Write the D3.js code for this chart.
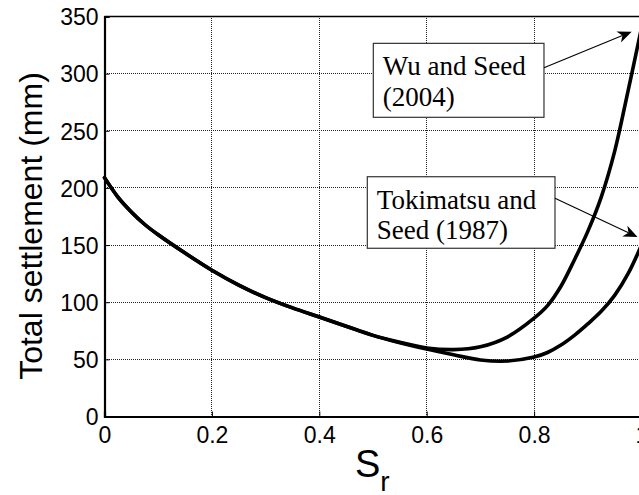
<!DOCTYPE html>
<html>
<head>
<meta charset="utf-8">
<script src="https://cdn.jsdelivr.net/npm/d3@7"></script>
<style>
  html, body { margin: 0; padding: 0; background: #fff; }
  svg { display: block; }
</style>
</head>
<body>
<svg id="chart" width="639" height="495"></svg>
<script>
// ---- data ----
const sr = [0, 0.025, 0.05, 0.075, 0.1, 0.15, 0.2, 0.25, 0.3, 0.35, 0.4, 0.45, 0.5, 0.55, 0.6, 0.65, 0.7, 0.75, 0.8, 0.825, 0.85, 0.875, 0.9, 0.925, 0.95, 0.975, 1.0];
const wuSeed = [209, 192, 179, 168, 159, 143, 128, 115, 104, 95, 87, 79, 71, 65, 60, 58.5, 61, 69.5, 86, 97, 114, 137, 162, 192, 232, 285, 340];
const tokimatsuSeed = [209, 192, 179, 168, 159, 143, 128, 115, 104, 95, 87, 79, 71, 64.5, 59, 54, 49.5, 48.5, 52, 56, 62.5, 71, 81, 92, 106, 125, 150];
const xTicks = [0, 0.2, 0.4, 0.6, 0.8, 1];
const xTickLabels = ["0", "0.2", "0.4", "0.6", "0.8", "1"];
const yTicks = [0, 50, 100, 150, 200, 250, 300, 350];
const annotations = [
  { lines: ["Wu and Seed", "(2004)"], box: [0.5006, 0.8184, 326.5, 261.8], from: [0.8184, 305.2], to: [0.9817, 336.7] },
  { lines: ["Tokimatsu and", "Seed (1987)"], box: [0.4894, 0.8389, 209.8, 147.2], from: [0.8389, 190.9], to: [0.9926, 157] }
];

// ---- layout ----
const svg = d3.select("#chart");
const x = d3.scaleLinear().domain([0, 1]).range([104.5, 641.5]);
const y = d3.scaleLinear().domain([0, 350]).range([416.5, 16.5]);
const fontSans = "'Liberation Sans', Arial, sans-serif";
const fontSerif = "'Liberation Serif', 'Times New Roman', serif";
const snap = v => Math.round(v - 0.5) + 0.5;

// grid
const grid = svg.append("g").attr("shape-rendering", "crispEdges");
grid.selectAll("line.gx").data(xTicks.slice(1)).enter().append("line")
  .attr("x1", d => snap(x(d))).attr("x2", d => snap(x(d)))
  .attr("y1", y(0)).attr("y2", y(350))
  .attr("stroke", "#222").attr("stroke-width", 1).attr("stroke-dasharray", "1,1");
grid.selectAll("line.gy").data(yTicks.slice(1, -1)).enter().append("line")
  .attr("x1", x(0)).attr("x2", x(1))
  .attr("y1", d => snap(y(d))).attr("y2", d => snap(y(d)))
  .attr("stroke", "#222").attr("stroke-width", 1).attr("stroke-dasharray", "1,1");

// axes
const xAxis = d3.axisBottom(x).tickValues(xTicks).tickFormat((d, i) => xTickLabels[i]).tickSize(-5).tickPadding(12);
const yAxis = d3.axisLeft(y).tickValues(yTicks).tickSize(-5).tickPadding(6);
const gx = svg.append("g").attr("transform", `translate(0,${y(0)})`).call(xAxis);
const gy = svg.append("g").attr("transform", `translate(${x(0)},0)`).call(yAxis);
[gx, gy].forEach(g => {
  g.select(".domain").attr("stroke", "#000").attr("stroke-width", 2.2);
  g.selectAll(".tick line").attr("stroke", "#000").attr("stroke-width", 1);
  g.selectAll(".tick text").attr("font-family", fontSans).attr("font-size", 23).attr("fill", "#000");
});
gx.selectAll(".tick text").attr("dy", "0.62em");
gy.selectAll(".tick text").attr("dy", "0.36em");
// top frame
svg.append("line").attr("x1", x(0)).attr("x2", x(1)).attr("y1", y(350)).attr("y2", y(350))
  .attr("stroke", "#000").attr("stroke-width", 1.6);

// curves
const line = d3.line().x(d => x(d[0])).y(d => y(d[1])).curve(d3.curveCatmullRom.alpha(0.5));
[wuSeed, tokimatsuSeed].forEach(series => {
  svg.append("path").datum(sr.map((s, i) => [s, series[i]]))
    .attr("d", line).attr("fill", "none").attr("stroke", "#000")
    .attr("stroke-width", 3.6).attr("stroke-linejoin", "round").attr("stroke-linecap", "round");
});

// annotations
annotations.forEach(a => {
  const x0 = x(a.box[0]), x1 = x(a.box[1]), y0 = y(a.box[2]), y1 = y(a.box[3]);
  svg.append("rect").attr("x", x0).attr("y", y0).attr("width", x1 - x0).attr("height", y1 - y0)
    .attr("fill", "#fff").attr("stroke", "#333").attr("stroke-width", 1.2);
  a.lines.forEach((t, i) => {
    svg.append("text").attr("x", x0 + 9.5).attr("y", y0 + 32 + i * 30.5)
      .attr("font-family", fontSerif).attr("font-size", 27).attr("fill", "#000").text(t);
  });
  const fx = x(a.from[0]), fy = y(a.from[1]), tx = x(a.to[0]), ty = y(a.to[1]);
  const ang = Math.atan2(ty - fy, tx - fx);
  const L = 14, W = 6, N = 10;
  const bx = tx - L * Math.cos(ang), by = ty - L * Math.sin(ang);
  const nx = tx - N * Math.cos(ang), ny = ty - N * Math.sin(ang);
  svg.append("line").attr("x1", fx).attr("y1", fy).attr("x2", nx).attr("y2", ny)
    .attr("stroke", "#000").attr("stroke-width", 1.1);
  const px = -Math.sin(ang), py = Math.cos(ang);
  const pts = [[tx, ty], [bx + W * px, by + W * py], [nx, ny], [bx - W * px, by - W * py]];
  svg.append("path").attr("d", "M" + pts.map(p => p.join(",")).join("L") + "Z").attr("fill", "#000");
});

// axis titles
svg.append("text").attr("transform", `translate(42,226) rotate(-90)`)
  .attr("text-anchor", "middle").attr("font-family", fontSans).attr("font-size", 32).attr("fill", "#000")
  .text("Total settlement (mm)");
const xt = svg.append("text").attr("x", 355).attr("y", 477)
  .attr("font-family", fontSans).attr("font-size", 38).attr("fill", "#000");
xt.append("tspan").text("S");
xt.append("tspan").attr("font-size", 28).attr("dy", 14).text("r");
</script>
</body>
</html>
